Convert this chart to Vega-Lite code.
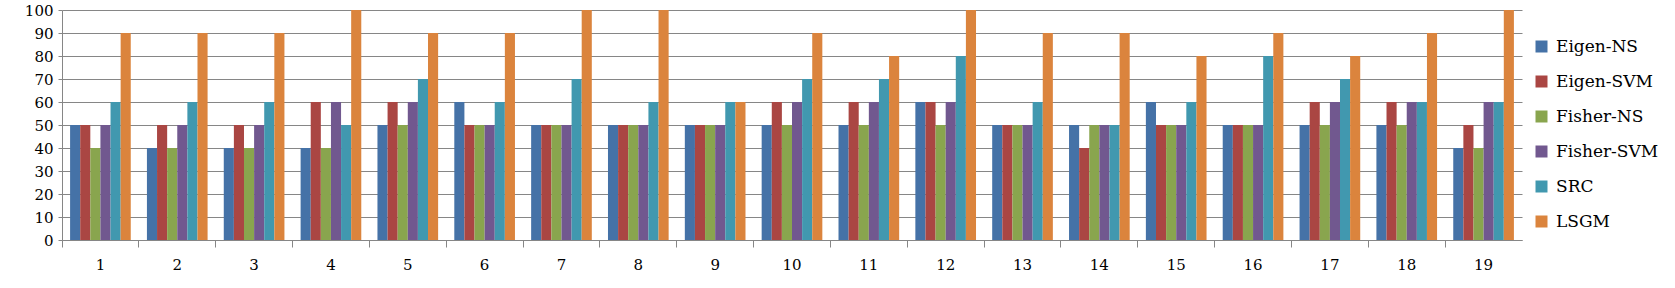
{
  "$schema": "https://vega.github.io/schema/vega-lite/v6.json",
  "autosize": "none",
  "width": 1460,
  "height": 230,
  "padding": {"left": 62, "top": 10, "right": 153, "bottom": 48},
  "background": "white",
  "config": {
    "view": {"stroke": null},
    "font": "DejaVu Serif",
    "axis": {"labelFont": "DejaVu Serif"},
    "legend": {"labelFont": "DejaVu Serif"}
  },
  "data": {
    "values": [
      {"g": 1, "m": "Eigen-NS", "v": 50}, {"g": 1, "m": "Eigen-SVM", "v": 50}, {"g": 1, "m": "Fisher-NS", "v": 40}, {"g": 1, "m": "Fisher-SVM", "v": 50}, {"g": 1, "m": "SRC", "v": 60}, {"g": 1, "m": "LSGM", "v": 90},
      {"g": 2, "m": "Eigen-NS", "v": 40}, {"g": 2, "m": "Eigen-SVM", "v": 50}, {"g": 2, "m": "Fisher-NS", "v": 40}, {"g": 2, "m": "Fisher-SVM", "v": 50}, {"g": 2, "m": "SRC", "v": 60}, {"g": 2, "m": "LSGM", "v": 90},
      {"g": 3, "m": "Eigen-NS", "v": 40}, {"g": 3, "m": "Eigen-SVM", "v": 50}, {"g": 3, "m": "Fisher-NS", "v": 40}, {"g": 3, "m": "Fisher-SVM", "v": 50}, {"g": 3, "m": "SRC", "v": 60}, {"g": 3, "m": "LSGM", "v": 90},
      {"g": 4, "m": "Eigen-NS", "v": 40}, {"g": 4, "m": "Eigen-SVM", "v": 60}, {"g": 4, "m": "Fisher-NS", "v": 40}, {"g": 4, "m": "Fisher-SVM", "v": 60}, {"g": 4, "m": "SRC", "v": 50}, {"g": 4, "m": "LSGM", "v": 100},
      {"g": 5, "m": "Eigen-NS", "v": 50}, {"g": 5, "m": "Eigen-SVM", "v": 60}, {"g": 5, "m": "Fisher-NS", "v": 50}, {"g": 5, "m": "Fisher-SVM", "v": 60}, {"g": 5, "m": "SRC", "v": 70}, {"g": 5, "m": "LSGM", "v": 90},
      {"g": 6, "m": "Eigen-NS", "v": 60}, {"g": 6, "m": "Eigen-SVM", "v": 50}, {"g": 6, "m": "Fisher-NS", "v": 50}, {"g": 6, "m": "Fisher-SVM", "v": 50}, {"g": 6, "m": "SRC", "v": 60}, {"g": 6, "m": "LSGM", "v": 90},
      {"g": 7, "m": "Eigen-NS", "v": 50}, {"g": 7, "m": "Eigen-SVM", "v": 50}, {"g": 7, "m": "Fisher-NS", "v": 50}, {"g": 7, "m": "Fisher-SVM", "v": 50}, {"g": 7, "m": "SRC", "v": 70}, {"g": 7, "m": "LSGM", "v": 100},
      {"g": 8, "m": "Eigen-NS", "v": 50}, {"g": 8, "m": "Eigen-SVM", "v": 50}, {"g": 8, "m": "Fisher-NS", "v": 50}, {"g": 8, "m": "Fisher-SVM", "v": 50}, {"g": 8, "m": "SRC", "v": 60}, {"g": 8, "m": "LSGM", "v": 100},
      {"g": 9, "m": "Eigen-NS", "v": 50}, {"g": 9, "m": "Eigen-SVM", "v": 50}, {"g": 9, "m": "Fisher-NS", "v": 50}, {"g": 9, "m": "Fisher-SVM", "v": 50}, {"g": 9, "m": "SRC", "v": 60}, {"g": 9, "m": "LSGM", "v": 60},
      {"g": 10, "m": "Eigen-NS", "v": 50}, {"g": 10, "m": "Eigen-SVM", "v": 60}, {"g": 10, "m": "Fisher-NS", "v": 50}, {"g": 10, "m": "Fisher-SVM", "v": 60}, {"g": 10, "m": "SRC", "v": 70}, {"g": 10, "m": "LSGM", "v": 90},
      {"g": 11, "m": "Eigen-NS", "v": 50}, {"g": 11, "m": "Eigen-SVM", "v": 60}, {"g": 11, "m": "Fisher-NS", "v": 50}, {"g": 11, "m": "Fisher-SVM", "v": 60}, {"g": 11, "m": "SRC", "v": 70}, {"g": 11, "m": "LSGM", "v": 80},
      {"g": 12, "m": "Eigen-NS", "v": 60}, {"g": 12, "m": "Eigen-SVM", "v": 60}, {"g": 12, "m": "Fisher-NS", "v": 50}, {"g": 12, "m": "Fisher-SVM", "v": 60}, {"g": 12, "m": "SRC", "v": 80}, {"g": 12, "m": "LSGM", "v": 100},
      {"g": 13, "m": "Eigen-NS", "v": 50}, {"g": 13, "m": "Eigen-SVM", "v": 50}, {"g": 13, "m": "Fisher-NS", "v": 50}, {"g": 13, "m": "Fisher-SVM", "v": 50}, {"g": 13, "m": "SRC", "v": 60}, {"g": 13, "m": "LSGM", "v": 90},
      {"g": 14, "m": "Eigen-NS", "v": 50}, {"g": 14, "m": "Eigen-SVM", "v": 40}, {"g": 14, "m": "Fisher-NS", "v": 50}, {"g": 14, "m": "Fisher-SVM", "v": 50}, {"g": 14, "m": "SRC", "v": 50}, {"g": 14, "m": "LSGM", "v": 90},
      {"g": 15, "m": "Eigen-NS", "v": 60}, {"g": 15, "m": "Eigen-SVM", "v": 50}, {"g": 15, "m": "Fisher-NS", "v": 50}, {"g": 15, "m": "Fisher-SVM", "v": 50}, {"g": 15, "m": "SRC", "v": 60}, {"g": 15, "m": "LSGM", "v": 80},
      {"g": 16, "m": "Eigen-NS", "v": 50}, {"g": 16, "m": "Eigen-SVM", "v": 50}, {"g": 16, "m": "Fisher-NS", "v": 50}, {"g": 16, "m": "Fisher-SVM", "v": 50}, {"g": 16, "m": "SRC", "v": 80}, {"g": 16, "m": "LSGM", "v": 90},
      {"g": 17, "m": "Eigen-NS", "v": 50}, {"g": 17, "m": "Eigen-SVM", "v": 60}, {"g": 17, "m": "Fisher-NS", "v": 50}, {"g": 17, "m": "Fisher-SVM", "v": 60}, {"g": 17, "m": "SRC", "v": 70}, {"g": 17, "m": "LSGM", "v": 80},
      {"g": 18, "m": "Eigen-NS", "v": 50}, {"g": 18, "m": "Eigen-SVM", "v": 60}, {"g": 18, "m": "Fisher-NS", "v": 50}, {"g": 18, "m": "Fisher-SVM", "v": 60}, {"g": 18, "m": "SRC", "v": 60}, {"g": 18, "m": "LSGM", "v": 90},
      {"g": 19, "m": "Eigen-NS", "v": 40}, {"g": 19, "m": "Eigen-SVM", "v": 50}, {"g": 19, "m": "Fisher-NS", "v": 40}, {"g": 19, "m": "Fisher-SVM", "v": 60}, {"g": 19, "m": "SRC", "v": 60}, {"g": 19, "m": "LSGM", "v": 100}
    ]
  },
  "mark": {"type": "bar", "cornerRadius": 0},
  "encoding": {
    "x": {
      "field": "g", "type": "ordinal",
      "scale": {"paddingInner": 0, "paddingOuter": 0},
      "axis": {
        "title": null, "labelAngle": 0, "bandPosition": 0,
        "labelFontSize": 15, "labelColor": "black", "labelPadding": 10,
        "labelOffset": 0,
        "domainColor": "#868686", "tickColor": "#868686", "tickSize": 7, "grid": false
      }
    },
    "xOffset": {
      "field": "m", "type": "nominal",
      "sort": ["Eigen-NS", "Eigen-SVM", "Fisher-NS", "Fisher-SVM", "SRC", "LSGM"],
      "scale": {"paddingInner": 0, "paddingOuter": 0.8}
    },
    "y": {
      "field": "v", "type": "quantitative",
      "scale": {"domain": [0, 100], "nice": false},
      "axis": {
        "title": null, "values": [0,10,20,30,40,50,60,70,80,90,100],
        "labelFontSize": 15, "labelColor": "black", "labelPadding": 5,
        "domainColor": "#868686", "tickColor": "#868686", "tickSize": 4,
        "gridColor": "#868686", "gridWidth": 1
      }
    },
    "color": {
      "field": "m", "type": "nominal",
      "sort": ["Eigen-NS", "Eigen-SVM", "Fisher-NS", "Fisher-SVM", "SRC", "LSGM"],
      "scale": {
        "domain": ["Eigen-NS", "Eigen-SVM", "Fisher-NS", "Fisher-SVM", "SRC", "LSGM"],
        "range": ["#4572A7", "#AA4643", "#89A54E", "#71588F", "#4198AF", "#DB843D"]
      },
      "legend": {
        "title": null, "orient": "none", "legendX": 1471, "legendY": 28,
        "symbolType": "square", "symbolSize": 144, "symbolStrokeWidth": 0,
        "labelFontSize": 17, "labelColor": "black", "labelOffset": 6,
        "labelLimit": 200,
        "rowPadding": 17
      }
    }
  }
}
